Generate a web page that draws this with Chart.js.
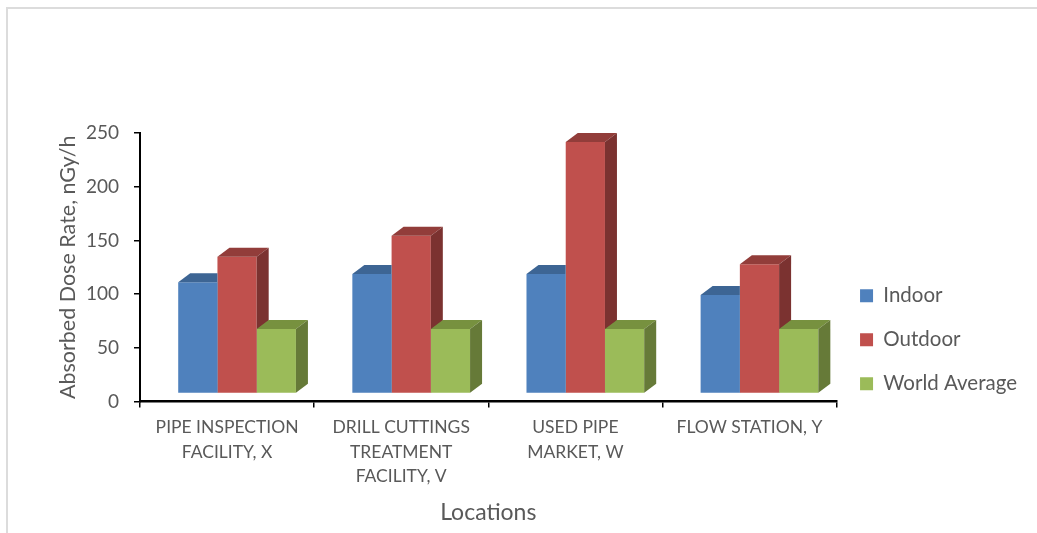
<!DOCTYPE html>
<html>
<head>
<meta charset="utf-8">
<script src="https://cdn.jsdelivr.net/npm/chart.js@4"></script>
<style>
  html, body { margin: 0; padding: 0; background: #fff; }
  #wrap { position: relative; width: 1037px; height: 533px; }
  #frame {
    position: absolute; left: 6px; top: 7px; right: 0; bottom: 0;
    border-top: 2px solid #dcdcdc; border-left: 2px solid #dcdcdc;
    pointer-events: none;
  }
</style>
</head>
<body>
<div id="wrap">
  <canvas id="doseChart" width="1037" height="533"></canvas>
  <div id="frame"></div>
</div>
<script>
// Absorbed dose rates per location (nGy/h)
const locations = [
    ['PIPE INSPECTION', 'FACILITY, X'],
    ['DRILL CUTTINGS', 'TREATMENT', 'FACILITY, V'],
    ['USED PIPE', 'MARKET, W'],
    ['FLOW STATION, Y']
];
const indoorDose = [103.5, 111.3, 111.3, 91.7];
const outdoorDose = [127.4, 146.9, 234.2, 120.3];
const worldAverage = [60, 60, 60, 60];
const seriesNames = ['Indoor', 'Outdoor', 'World Average'];
const yMin = 0;
const yMax = 250;
const yStep = 50;

const textColor = '#595959';
const fontFamily = 'Lato, "Open Sans", sans-serif';

// front / top / side shades for the 3D look
const shades = [
    { front: '#4F81BD', top: '#3D6594', side: '#39608C' },
    { front: '#C0504D', top: '#923D3A', side: '#7B3230' },
    { front: '#9BBB59', top: '#77913F', side: '#667A38' }
];

// oblique depth of each column
const depthX = 12;
const depthY = 9;
// the columns sit a little behind the axis line
const floorShiftX = 10;
const floorShiftY = -8;

function barBox(bar) {
    const { x, y, base, width } = bar.getProps(['x', 'y', 'base', 'width'], true);
    return { l: x - width / 2, r: x + width / 2, top: y, base: base };
}

// top and side faces, drawn after all fronts; a column's faces are hidden
// behind the fronts of the columns standing to its right
const bars3d = {
    id: 'bars3d',
    beforeDatasetsDraw(chart) {
        chart.ctx.save();
        chart.ctx.translate(floorShiftX, floorShiftY);
    },
    afterDatasetsDraw(chart) {
        const ctx = chart.ctx;
        const metas = chart.data.datasets.map((d, i) => chart.getDatasetMeta(i));
        const nCat = chart.data.labels.length;
        for (let j = 0; j < nCat; j++) {
            for (let i = 0; i < metas.length; i++) {
                const b = barBox(metas[i].data[j]);
                const shade = shades[i];
                ctx.save();
                ctx.beginPath();
                ctx.rect(-50, -50, chart.width + 100, chart.height + 100);
                for (let k = i + 1; k < metas.length; k++) {
                    const f = barBox(metas[k].data[j]);
                    ctx.rect(f.l, f.top, f.r - f.l, f.base - f.top);
                }
                ctx.clip('evenodd');

                ctx.fillStyle = shade.top;
                ctx.beginPath();
                ctx.moveTo(b.l, b.top);
                ctx.lineTo(b.r, b.top);
                ctx.lineTo(b.r + depthX, b.top - depthY);
                ctx.lineTo(b.l + depthX, b.top - depthY);
                ctx.closePath();
                ctx.fill();

                ctx.fillStyle = shade.side;
                ctx.beginPath();
                ctx.moveTo(b.r, b.top);
                ctx.lineTo(b.r + depthX, b.top - depthY);
                ctx.lineTo(b.r + depthX, b.base - depthY);
                ctx.lineTo(b.r, b.base);
                ctx.closePath();
                ctx.fill();
                ctx.restore();
            }
        }
        ctx.restore();
    }
};

const seriesValues = [indoorDose, outdoorDose, worldAverage];
const datasets = seriesValues.map((values, i) => ({
    label: seriesNames[i],
    data: values,
    backgroundColor: shades[i].front,
    borderWidth: 0,
    categoryPercentage: 0.676,
    barPercentage: 1.0,
    clip: false
}));

const ctx = document.getElementById('doseChart').getContext('2d');

new Chart(ctx, {
    type: 'bar',
    data: {
        labels: locations,
        datasets: datasets
    },
    plugins: [bars3d],
    options: {
        responsive: false,
        animation: false,
        layout: {
            padding: { top: 133, left: 8, right: 10, bottom: 0 }
        },
        scales: {
            x: {
                offset: true,
                afterFit: (scale) => { scale.height = 131.5; },
                border: { display: true, color: '#000', width: 2.5 },
                grid: {
                    offset: true,
                    drawOnChartArea: false,
                    color: '#000',
                    lineWidth: 1.5,
                    tickLength: 6
                },
                ticks: {
                    color: textColor,
                    padding: 8,
                    maxRotation: 0,
                    autoSkip: false,
                    font: { family: fontFamily, size: 17.5, lineHeight: 1.4 }
                },
                title: {
                    display: true,
                    text: 'Locations',
                    color: textColor,
                    font: { family: fontFamily, size: 23, lineHeight: 1.2 },
                    padding: { top: 0, bottom: 7 }
                }
            },
            y: {
                min: yMin,
                max: yMax,
                afterFit: (scale) => { scale.width = 132; },
                border: { display: true, color: '#000', width: 2 },
                grid: {
                    drawOnChartArea: false,
                    color: '#000',
                    lineWidth: 1.5,
                    tickLength: 6
                },
                ticks: {
                    stepSize: yStep,
                    color: textColor,
                    padding: 15,
                    font: { family: fontFamily, size: 19 }
                },
                title: {
                    display: true,
                    text: 'Absorbed Dose Rate, nGy/h',
                    color: textColor,
                    font: { family: fontFamily, size: 21.5, lineHeight: 1.2 },
                    padding: { top: 47, bottom: 0 }
                }
            }
        },
        plugins: {
            legend: {
                position: 'right',
                align: 'start',
                title: {
                    display: true,
                    text: '',
                    font: { size: 10, lineHeight: 1 },
                    padding: { top: 119, bottom: 0 }
                },
                labels: {
                    boxWidth: 13,
                    boxHeight: 13,
                    padding: 23.5,
                    color: textColor,
                    font: { family: fontFamily, size: 20.5, lineHeight: 1 }
                }
            },
            tooltip: { enabled: false }
        }
    }
});
</script>
</body>
</html>
